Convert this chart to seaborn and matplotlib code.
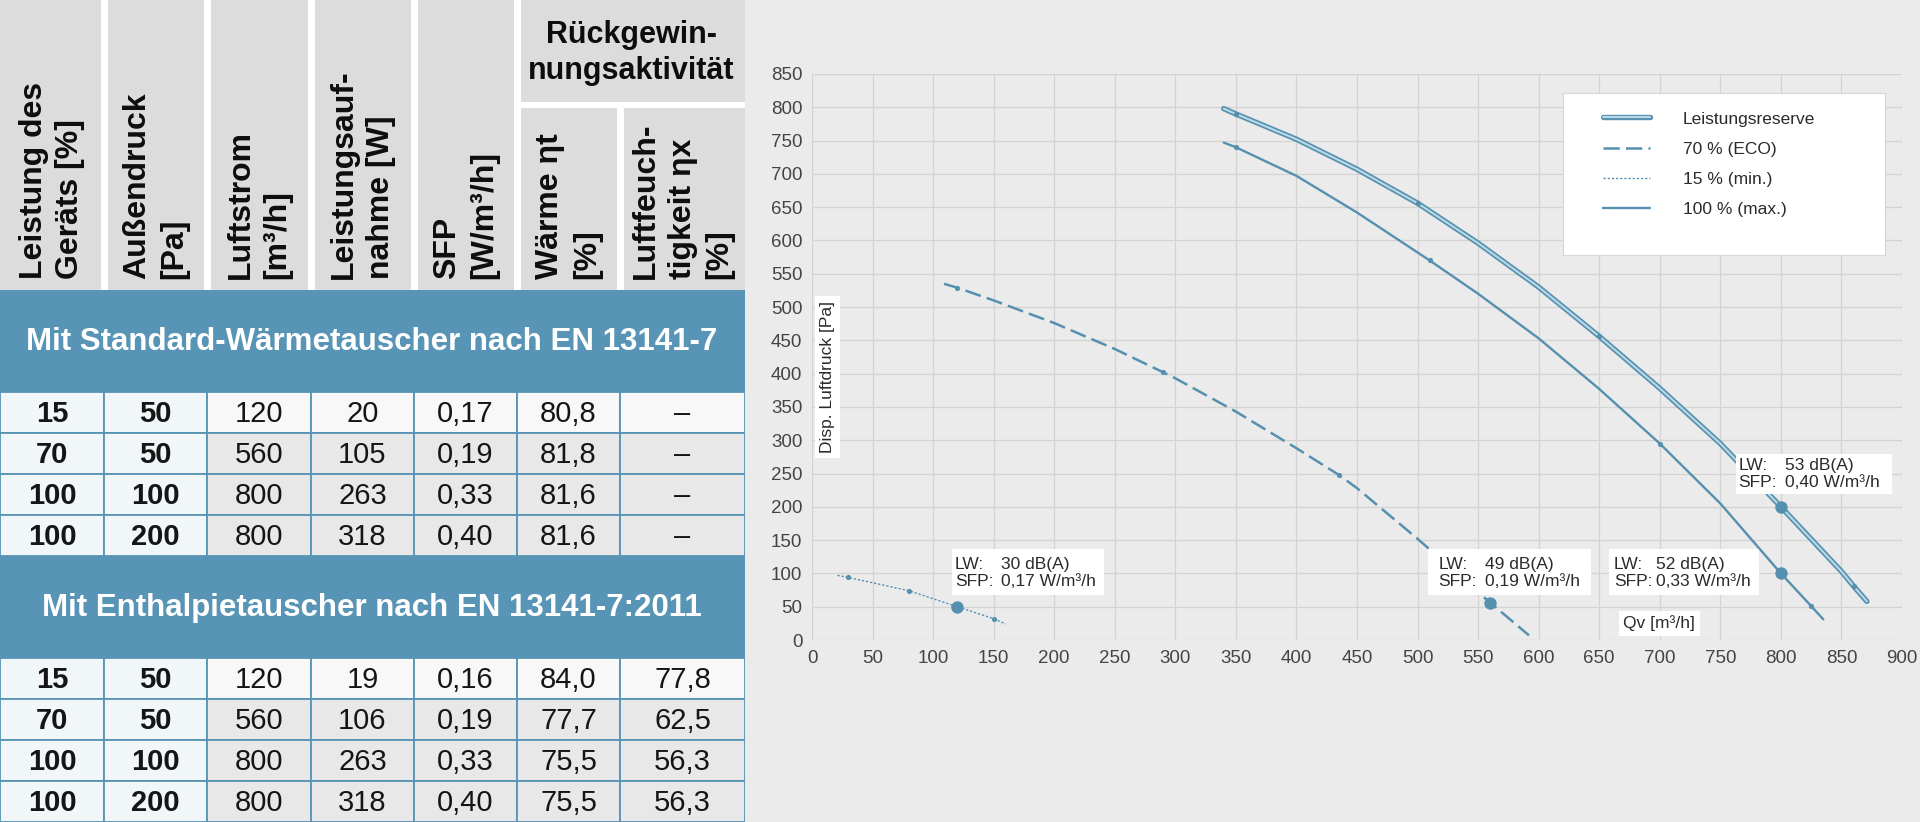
import matplotlib
matplotlib.use("Agg")
import matplotlib.pyplot as plt
import matplotlib.patheffects as pe
from matplotlib.patches import Rectangle
import seaborn as sns

# ---- table data ----
col_heads = ["Leistung des\nGeräts [%]", "Außendruck\n[Pa]", "Luftstrom\n[m³/h]",
             "Leistungsauf-\nnahme [W]", "SFP\n[W/m³/h]", "Wärme ηt\n[%]",
             "Luftfeuch-\ntigkeit ηx\n[%]"]
group_head = "Rückgewin-\nnungsaktivität"
section_titles = ["Mit Standard-Wärmetauscher nach EN 13141-7",
                  "Mit Enthalpietauscher nach EN 13141-7:2011"]
leistung = ["15", "70", "100", "100"]
aussendruck = ["50", "50", "100", "200"]
luftstrom = ["120", "560", "800", "800"]
aufnahme_std = ["20", "105", "263", "318"]
sfp_std = ["0,17", "0,19", "0,33", "0,40"]
waerme_std = ["80,8", "81,8", "81,6", "81,6"]
feuchte_std = ["–", "–", "–", "–"]
aufnahme_ent = ["19", "106", "263", "318"]
sfp_ent = ["0,16", "0,19", "0,33", "0,40"]
waerme_ent = ["84,0", "77,7", "75,5", "75,5"]
feuchte_ent = ["77,8", "62,5", "56,3", "56,3"]

# ---- curve data (Qv m3/h, pressure Pa) ----
q_min = [21, 30, 80, 120, 150, 160]
p_min = [97, 94, 74, 50, 32, 24]
q_eco = [109, 120, 150, 200, 250, 290, 300, 350, 400, 435, 450, 500, 560, 592]
p_eco = [535, 529, 510, 476, 437, 402, 393, 343, 288, 248, 228, 152, 56, 7]
q_max = [340, 350, 400, 450, 510, 550, 600, 650, 700, 750, 800, 825, 835]
p_max = [747, 740, 697, 642, 570, 520, 453, 377, 295, 205, 100, 51, 31]
q_res = [340, 350, 400, 450, 500, 550, 600, 650, 700, 750, 800, 850, 860, 871]
p_res = [798, 790, 752, 707, 656, 596, 530, 456, 378, 295, 200, 103, 81, 58]
# measured points (index into the curves) and operating point
dots_min, op_min = [1, 2, 4], 3
dots_eco, op_eco = [1, 5, 9], 12
dots_max, op_max = [1, 4, 8, 11], 10
dots_res, op_res = [1, 4, 7, 12], 10

legend_labels = ["Leistungsreserve", "70 % (ECO)", "15 % (min.)", "100 % (max.)"]
lw_values = ["30 dB(A)", "49 dB(A)", "52 dB(A)", "53 dB(A)"]
sfp_values = ["0,17 W/m³/h", "0,19 W/m³/h", "0,33 W/m³/h", "0,40 W/m³/h"]
x_ticks = list(range(0, 901, 50))
y_ticks = list(range(0, 851, 50))

sns.set_style("whitegrid")
plt.rcParams['font.family'] = ['Liberation Sans', 'DejaVu Sans']

BG = '#ebebeb'
BLUE = '#5894b5'
LINE = '#5690af'

fig = plt.figure(figsize=(19.2, 8.22), dpi=100, facecolor=BG)

# ================= table (pixel coordinates) =================
tab = fig.add_axes([0, 0, 745 / 1920, 1])
tab.set_xlim(0, 745)
tab.set_ylim(822, 0)
tab.axis('off')
col_x = [0, 104, 207, 311, 414, 517, 620, 745]
gap = 3.5

tab.add_patch(Rectangle((0, 0), 745, 290, fc='white', ec='none'))
for i in range(7):
    x0 = col_x[i] + (gap if i > 0 else 0)
    x1 = col_x[i + 1] - (gap if i < 6 else 0)
    y0 = 108 if i >= 5 else 0
    tab.add_patch(Rectangle((x0, y0), x1 - x0, 290 - y0, fc='#dcdcdc', ec='none'))
    tab.text((col_x[i] + col_x[i + 1]) / 2, 279, col_heads[i], rotation=90,
             ha='center', va='bottom', multialignment='left', fontsize=23,
             fontweight='bold', color='#0d0d0d', linespacing=1.3)
tab.add_patch(Rectangle((col_x[5] + gap, 0), 745 - col_x[5] - gap, 102, fc='#dcdcdc', ec='none'))
tab.text((col_x[5] + 745) / 2, 53, group_head, ha='center', va='center', fontsize=22,
         fontweight='bold', color='#0d0d0d', linespacing=1.25)

sections = [
    (290, [leistung, aussendruck, luftstrom, aufnahme_std, sfp_std, waerme_std, feuchte_std]),
    (556, [leistung, aussendruck, luftstrom, aufnahme_ent, sfp_ent, waerme_ent, feuchte_ent]),
]
for (top, cols), title in zip(sections, section_titles):
    tab.add_patch(Rectangle((0, top), 745, 102, fc=BLUE, ec='none'))
    tab.text(372, top + 52, title, ha='center', va='center', fontsize=22.5,
             fontweight='bold', color='white')
    row_h = 41
    for r in range(4):
        y0 = top + 102 + r * row_h
        for c in range(7):
            if c < 2:
                fc = '#f1f6f9'
            elif r == 0:
                fc = '#f8f8f8'
            else:
                fc = '#e8e8e8'
            tab.add_patch(Rectangle((col_x[c], y0), col_x[c + 1] - col_x[c], row_h,
                                    fc=fc, ec=BLUE, lw=1.3))
            tab.text((col_x[c] + col_x[c + 1]) / 2, y0 + row_h / 2 + 1, cols[c][r],
                     ha='center', va='center', fontsize=21,
                     fontweight='bold' if c < 2 else 'normal', color='#151515')

# ================= chart =================
ax = fig.add_axes([812 / 1920, 182 / 822, 1090 / 1920, 566 / 822])
ax.set_facecolor(BG)

sns.lineplot(x=q_res, y=p_res, ax=ax, sort=False, color='#b9d8e7', lw=1.5,
             path_effects=[pe.Stroke(linewidth=3.9, foreground=LINE), pe.Normal()],
             zorder=2)
h_res = ax.lines[-1]
sns.lineplot(x=q_eco, y=p_eco, ax=ax, sort=False, color=LINE, lw=1.8, zorder=2)
h_eco = ax.lines[-1]
h_eco.set_dashes([6.5, 2.5])
sns.lineplot(x=q_min, y=p_min, ax=ax, sort=False, color=LINE, lw=1.0, zorder=2)
h_min = ax.lines[-1]
h_min.set_dashes([1.6, 1.4])
sns.lineplot(x=q_max, y=p_max, ax=ax, sort=False, color=LINE, lw=1.7, zorder=2)
h_max = ax.lines[-1]

small_x, small_y, big_x, big_y = [], [], [], []
for q, p, dots, op in [(q_min, p_min, dots_min, op_min), (q_eco, p_eco, dots_eco, op_eco),
                       (q_max, p_max, dots_max, op_max), (q_res, p_res, dots_res, op_res)]:
    small_x += [q[i] for i in dots]
    small_y += [p[i] for i in dots]
    big_x.append(q[op])
    big_y.append(p[op])
sns.scatterplot(x=small_x, y=small_y, ax=ax, color=LINE, s=14, linewidth=0, zorder=4, legend=False)
sns.scatterplot(x=big_x, y=big_y, ax=ax, color=LINE, s=80, linewidth=0, zorder=5, legend=False)

ax.set_xlim(0, 900)
ax.set_ylim(0, 850)
ax.set_xticks(x_ticks)
ax.set_yticks(y_ticks)
ax.grid(True, color='#d3d3d3', lw=0.9)
ax.set_axisbelow(True)
for s in ax.spines.values():
    s.set_visible(False)
ax.tick_params(length=0, labelsize=13.5, labelcolor='#444444', pad=7)
ax.set_xlabel('')
ax.set_ylabel('')

# annotation boxes: (left, bottom, width, height, label x, value x, center y)
ann_layout = [(116, 67, 125, 69, 118, 156, 101),
              (509, 67, 134, 69, 517, 556, 101),
              (658, 67, 124, 69, 662, 697, 101),
              (763, 219, 129, 61, 765, 803, 249)]
for (x0, y0, w, h, xl, xv, yc), lwv, sfv in zip(ann_layout, lw_values, sfp_values):
    ax.add_patch(Rectangle((x0, y0), w, h, fc='white', ec='none', zorder=3))
    ax.text(xl, yc, "LW:\nSFP:", ha='left', va='center', fontsize=12.5,
            color='#2a2a2a', linespacing=1.15, zorder=3.5)
    ax.text(xv, yc, lwv + "\n" + sfv, ha='left', va='center', fontsize=12.5,
            color='#2a2a2a', linespacing=1.15, zorder=3.5)

ax.text(13, 281, "Disp. Luftdruck [Pa]", rotation=90, ha='center', va='bottom',
        fontsize=12.5, color='#2a2a2a', zorder=3.5,
        bbox=dict(boxstyle='square,pad=0.3', fc='white', ec='none'))
ax.text(670, 25, "Qv [m³/h]", ha='left', va='center', fontsize=12.5, color='#2a2a2a',
        zorder=3.5, bbox=dict(boxstyle='square,pad=0.25', fc='white', ec='none'))

# legend
ax.add_patch(Rectangle((620 / 900, 578 / 850), 266 / 900, 244 / 850, transform=ax.transAxes,
                       fc='white', ec='#d6d6d6', lw=0.8, zorder=6))
leg = ax.legend([h_res, h_eco, h_min, h_max], legend_labels, loc='upper left',
                bbox_to_anchor=(653 / 900, 0.934), frameon=False, fontsize=12.5,
                handlelength=2.7, handletextpad=1.9, labelspacing=0.86,
                borderpad=0, borderaxespad=0)
leg.set_zorder(7)
for t in leg.get_texts():
    t.set_color('#2a2a2a')

fig.savefig("out.png", dpi=100, facecolor=BG)
